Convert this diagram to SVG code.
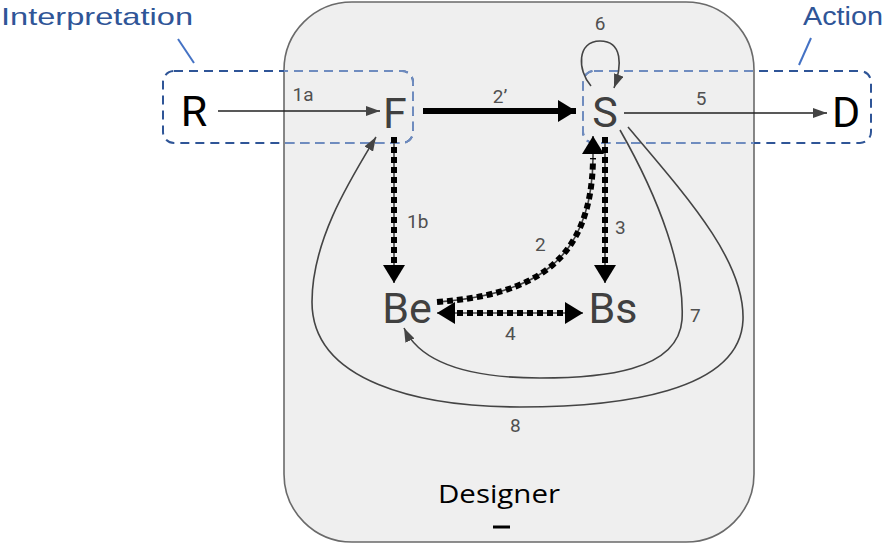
<svg xmlns="http://www.w3.org/2000/svg" width="886" height="545" viewBox="0 0 886 545">
<style>
.node{font-family:Roboto,"Liberation Sans",Arial,sans-serif;font-size:43px;text-anchor:middle}
.lbl{font-family:Roboto,"Liberation Sans",Arial,sans-serif;font-size:19px;fill:#505050}
.cal{font-family:"Open Sans","Noto Sans","Liberation Sans",sans-serif}
.top{font-family:"Liberation Sans",Arial,sans-serif}
.thin{fill:none;stroke:#444;stroke-width:1.6}
.dots{fill:none;stroke:#000;stroke-width:6;stroke-dasharray:6 4}
.grp{fill:none;stroke-width:2;stroke-dasharray:9 6}
</style>
<defs>
<marker id="ah" viewBox="0 0 14 10" refX="14" refY="5" markerWidth="14" markerHeight="10" markerUnits="userSpaceOnUse" orient="auto"><path d="M0,0 L14,5 L0,10 z" fill="#444"/></marker>
<marker id="ahb" viewBox="0 0 18 22" refX="18" refY="11" markerWidth="18" markerHeight="22" markerUnits="userSpaceOnUse" orient="auto-start-reverse"><path d="M0,0 L18,11 L0,22 z" fill="#000"/></marker>
<clipPath id="dclip"><rect x="284" y="2" width="470" height="540" rx="68"/></clipPath>
</defs>

<g id="designer">
<rect x="284" y="2" width="470" height="540" rx="68" fill="#efefef" stroke="#6a6a6a" stroke-width="1.6"/>
<text class="cal" x="438" y="503" font-size="26" textLength="122" lengthAdjust="spacingAndGlyphs" fill="#000">Designer</text>
<line x1="493" y1="527" x2="510" y2="527" stroke="#000" stroke-width="3"/>
</g>

<g id="interpretation">
<rect class="grp" x="163" y="71" width="250" height="72" rx="11" stroke="#2f5597"/>
<rect class="grp" x="163" y="71" width="250" height="72" rx="11" stroke="#6f8cbf" clip-path="url(#dclip)"/>
<text class="top" x="1" y="25" font-size="24" textLength="192" lengthAdjust="spacingAndGlyphs" fill="#2f5597">Interpretation</text>
<line x1="178" y1="39" x2="194" y2="63" stroke="#4472c4" stroke-width="2"/>
</g>

<g id="action">
<rect class="grp" x="583" y="71" width="288" height="72" rx="11" stroke="#2f5597"/>
<rect class="grp" x="583" y="71" width="288" height="72" rx="11" stroke="#6f8cbf" clip-path="url(#dclip)"/>
<text class="top" x="803" y="25" font-size="25" textLength="80" lengthAdjust="spacingAndGlyphs" fill="#2f5597">Action</text>
<line x1="811" y1="38" x2="799" y2="65" stroke="#4472c4" stroke-width="2"/>
</g>

<g id="connectors">
<line x1="218" y1="111" x2="380" y2="111" stroke="#222" stroke-width="1.6" marker-end="url(#ah)"/>
<text class="lbl" x="303" y="101" text-anchor="middle">1a</text>

<line x1="423" y1="111" x2="576" y2="111" stroke="#000" stroke-width="6" marker-end="url(#ahb)"/>
<text class="lbl" x="500" y="103" text-anchor="middle">2’</text>

<line x1="624" y1="113" x2="827" y2="113" stroke="#222" stroke-width="1.6" marker-end="url(#ah)"/>
<text class="lbl" x="701" y="105" text-anchor="middle">5</text>

<path class="thin" d="M591 86 C577 70 577 41 600 41 C623 41 622 66 614 88" marker-end="url(#ah)"/>
<text class="lbl" x="600" y="30" text-anchor="middle">6</text>

<line class="thin" x1="394" y1="137" x2="394" y2="283" marker-end="url(#ahb)"/>
<line class="dots" x1="394" y1="137" x2="394" y2="266"/>
<text class="lbl" x="407" y="228">1b</text>

<line class="thin" x1="605" y1="137" x2="605" y2="283" marker-end="url(#ahb)"/>
<line class="dots" x1="605" y1="137" x2="605" y2="266"/>
<text class="lbl" x="615" y="234">3</text>

<path class="thin" d="M437 302 C530 295 592 265 593 158 L593 136" marker-end="url(#ahb)"/>
<path class="dots" d="M437 302 C530 295 592 265 593 158"/>
<text class="lbl" x="535" y="251">2</text>

<line class="thin" x1="437" y1="313" x2="583" y2="313" marker-start="url(#ahb)" marker-end="url(#ahb)"/>
<line class="dots" x1="457" y1="313" x2="565" y2="313"/>
<text class="lbl" x="505" y="340">4</text>

<path class="thin" d="M620 130 C660 200 685 270 682 320 C678 372 600 378 540 378 C465 378 420 362 404 328" marker-end="url(#ah)"/>
<text class="lbl" x="690" y="322">7</text>

<path class="thin" d="M628 127 C690 200 745 262 743 320 C740 392 620 407 520 407 C420 407 312 382 312 302 C312 240 350 180 376 137" marker-end="url(#ah)"/>
<text class="lbl" x="510" y="432">8</text>
</g>

<g id="R"><text class="node" x="194" y="126" fill="#000">R</text></g>
<g id="F"><text class="node" x="395" y="128" fill="#404040">F</text></g>
<g id="S"><text class="node" x="605" y="127" fill="#404040">S</text></g>
<g id="D"><text class="node" x="846" y="127" fill="#000">D</text></g>
<g id="Be"><text class="node" x="407" y="323" font-size="41" fill="#404040">Be</text></g>
<g id="Bs"><text class="node" x="613" y="323" font-size="41" fill="#404040">Bs</text></g>
</svg>
